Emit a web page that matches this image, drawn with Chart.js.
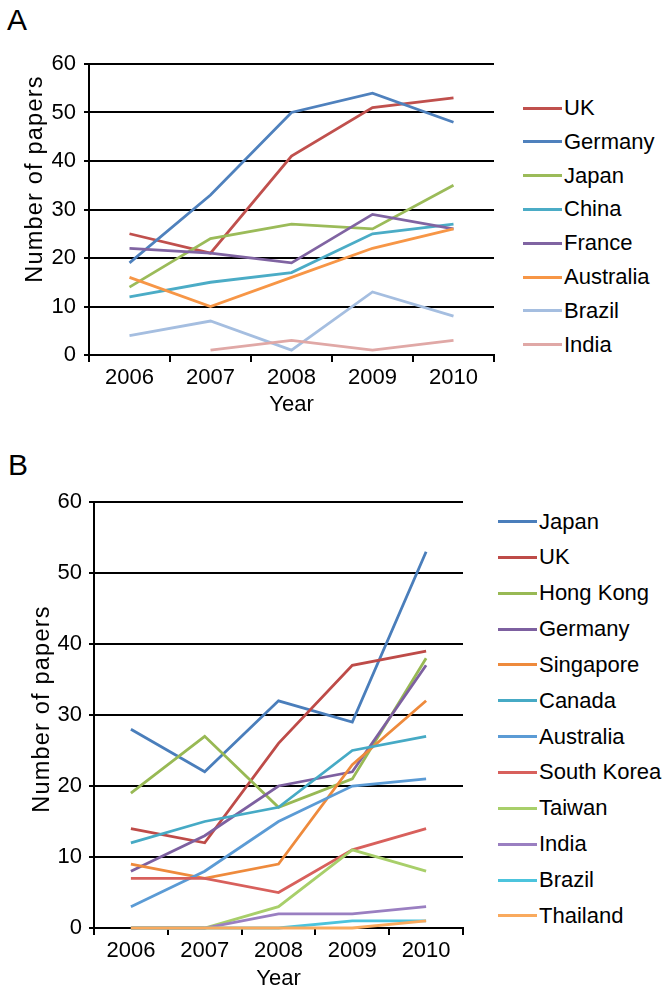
<!DOCTYPE html>
<html>
<head>
<meta charset="utf-8">
<script src="https://cdn.jsdelivr.net/npm/chart.js@4.4.1/dist/chart.umd.min.js"></script>
<style>
  body { margin: 0; background: #fff; font-family: 'Liberation Sans', Arial, sans-serif; }
  #page { position: relative; width: 672px; height: 994px; overflow: hidden; }
  canvas { position: absolute; left: 0; }
  .panel { position: absolute; font-size: 30px; line-height: 30px; color: #000; }
  .key { position: absolute; height: 3px; }
  .name { position: absolute; font-size: 22px; line-height: 22px; color: #000; white-space: nowrap; }
  .ytitle { position: absolute; width: 240px; height: 24px; font-size: 23.5px; line-height: 24px; letter-spacing: 1.2px;
            text-align: center; color: #000; white-space: nowrap; transform: rotate(-90deg); }
</style>
</head>
<body>
<div id="page">
  <div class="panel" style="left:7px; top:5px;">A</div>
  <div class="panel" style="left:8px; top:450px;">B</div>
  <canvas id="chartA" width="500" height="420" style="top:0;"></canvas>
  <canvas id="chartB" width="480" height="554" style="top:440px;"></canvas>
  <div class="ytitle" style="left:-86px; top:167px;">Number of papers</div>
  <div class="ytitle" style="left:-79px; top:697px;">Number of papers</div>
</div>
<script>
const years = ['2006', '2007', '2008', '2009', '2010'];

// panel A
const namesA = ['UK', 'Germany', 'Japan', 'China', 'France', 'Australia', 'Brazil', 'India'];
const ukA = [25, 21, 41, 51, 53];
const germanyA = [19, 33, 50, 54, 48];
const japanA = [14, 24, 27, 26, 35];
const chinaA = [12, 15, 17, 25, 27];
const franceA = [22, 21, 19, 29, 26];
const australiaA = [16, 10, 16, 22, 26];
const brazilA = [4, 7, 1, 13, 8];
const indiaA = [null, 1, 3, 1, 3];
const colorsA = ['#C0504D', '#4F81BD', '#9BBB59', '#4BACC6', '#8064A2', '#F79646', '#A5BEE0', '#E0A8A6'];

// panel B
const namesB = ['Japan', 'UK', 'Hong Kong', 'Germany', 'Singapore', 'Canada', 'Australia', 'South Korea', 'Taiwan', 'India', 'Brazil', 'Thailand'];
const japanB = [28, 22, 32, 29, 53];
const ukB = [14, 12, 26, 37, 39];
const hongKongB = [19, 27, 17, 21, 38];
const germanyB = [8, 13, 20, 22, 37];
const singaporeB = [9, 7, 9, 23, 32];
const canadaB = [12, 15, 17, 25, 27];
const australiaB = [3, 8, 15, 20, 21];
const southKoreaB = [7, 7, 5, 11, 14];
const taiwanB = [0, 0, 3, 11, 8];
const indiaB = [0, 0, 2, 2, 3];
const brazilB = [0, 0, 0, 1, 1];
const thailandB = [0, 0, 0, 0, 1];
const colorsB = ['#4A7EBB', '#BE4B48', '#98B954', '#7D60A0', '#EE8A3C', '#46AAC5', '#5B9BD5', '#D8605C', '#A8CF6A', '#9A7FC1', '#4CC4DD', '#F9AA5E'];

const yTicks = [0, 10, 20, 30, 40, 50, 60];

const makeSets = (names, values, colors) =>
  names.map((name, i) => ({
    label: name,
    data: values[i],
    borderColor: colors[i],
    backgroundColor: colors[i],
    borderWidth: 2.8,
    pointRadius: 0,
    tension: 0,
    fill: false,
    clip: false,
    order: -i
  }));

const makeChart = (id, sets, fit) => {
  new Chart(document.getElementById(id), {
    type: 'line',
    data: { labels: years, datasets: sets },
    options: {
      responsive: false,
      animation: false,
      devicePixelRatio: 1,
      layout: { padding: { top: fit.top, right: fit.right, left: 0, bottom: 0 } },
      plugins: { legend: { display: false }, tooltip: { enabled: false } },
      scales: {
        x: {
          type: 'category',
          offset: true,
          grid: { offset: true, drawOnChartArea: false, color: '#000', lineWidth: 2, tickLength: 7 },
          border: { color: '#000', width: 2 },
          ticks: { color: '#000', font: { size: 22, family: 'Liberation Sans' }, padding: 3, maxRotation: 0 },
          title: { display: true, text: 'Year', color: '#000', font: { size: 22, family: 'Liberation Sans' }, padding: { top: 0, bottom: fit.yearPad } },
          afterFit: (s) => { s.height = fit.xHeight; }
        },
        y: {
          min: 0,
          max: 60,
          afterBuildTicks: (s) => { s.ticks = yTicks.map(v => ({ value: v })); },
          grid: { color: '#000', lineWidth: 2, tickLength: 5 },
          border: { color: '#000', width: 2 },
          ticks: { color: '#000', font: { size: 22, family: 'Liberation Sans' }, padding: fit.tickPad },
          title: { display: false },
          afterFit: (s) => { s.width = fit.yWidth; }
        }
      }
    }
  });
};

const addLegend = (names, colors, lineX, textX, firstY, step) => {
  const page = document.getElementById('page');
  names.forEach((name, i) => {
    const y = firstY + step * i;
    const key = document.createElement('div');
    key.className = 'key';
    key.style.left = lineX + 'px';
    key.style.width = (textX - lineX - 2) + 'px';
    key.style.top = (y - 1.5) + 'px';
    key.style.background = colors[i];
    page.appendChild(key);
    const label = document.createElement('div');
    label.className = 'name';
    label.style.left = textX + 'px';
    label.style.top = (y - 11) + 'px';
    label.textContent = name;
    page.appendChild(label);
  });
};

makeChart('chartA',
  makeSets(namesA, [ukA, germanyA, japanA, chinaA, franceA, australiaA, brazilA, indiaA], colorsA),
  { top: 64, right: 6, xHeight: 65, yWidth: 89, tickPad: 8, yearPad: 2 });

makeChart('chartB',
  makeSets(namesB, [japanB, ukB, hongKongB, germanyB, singaporeB, canadaB, australiaB, southKoreaB, taiwanB, indiaB, brazilB, thailandB], colorsB),
  { top: 62, right: 17, xHeight: 66, yWidth: 94, tickPad: 7, yearPad: 2 });

addLegend(namesA, colorsA, 523, 564, 108, 33.8);
addLegend(namesB, colorsB, 498, 539, 521.5, 35.85);
</script>
</body>
</html>
